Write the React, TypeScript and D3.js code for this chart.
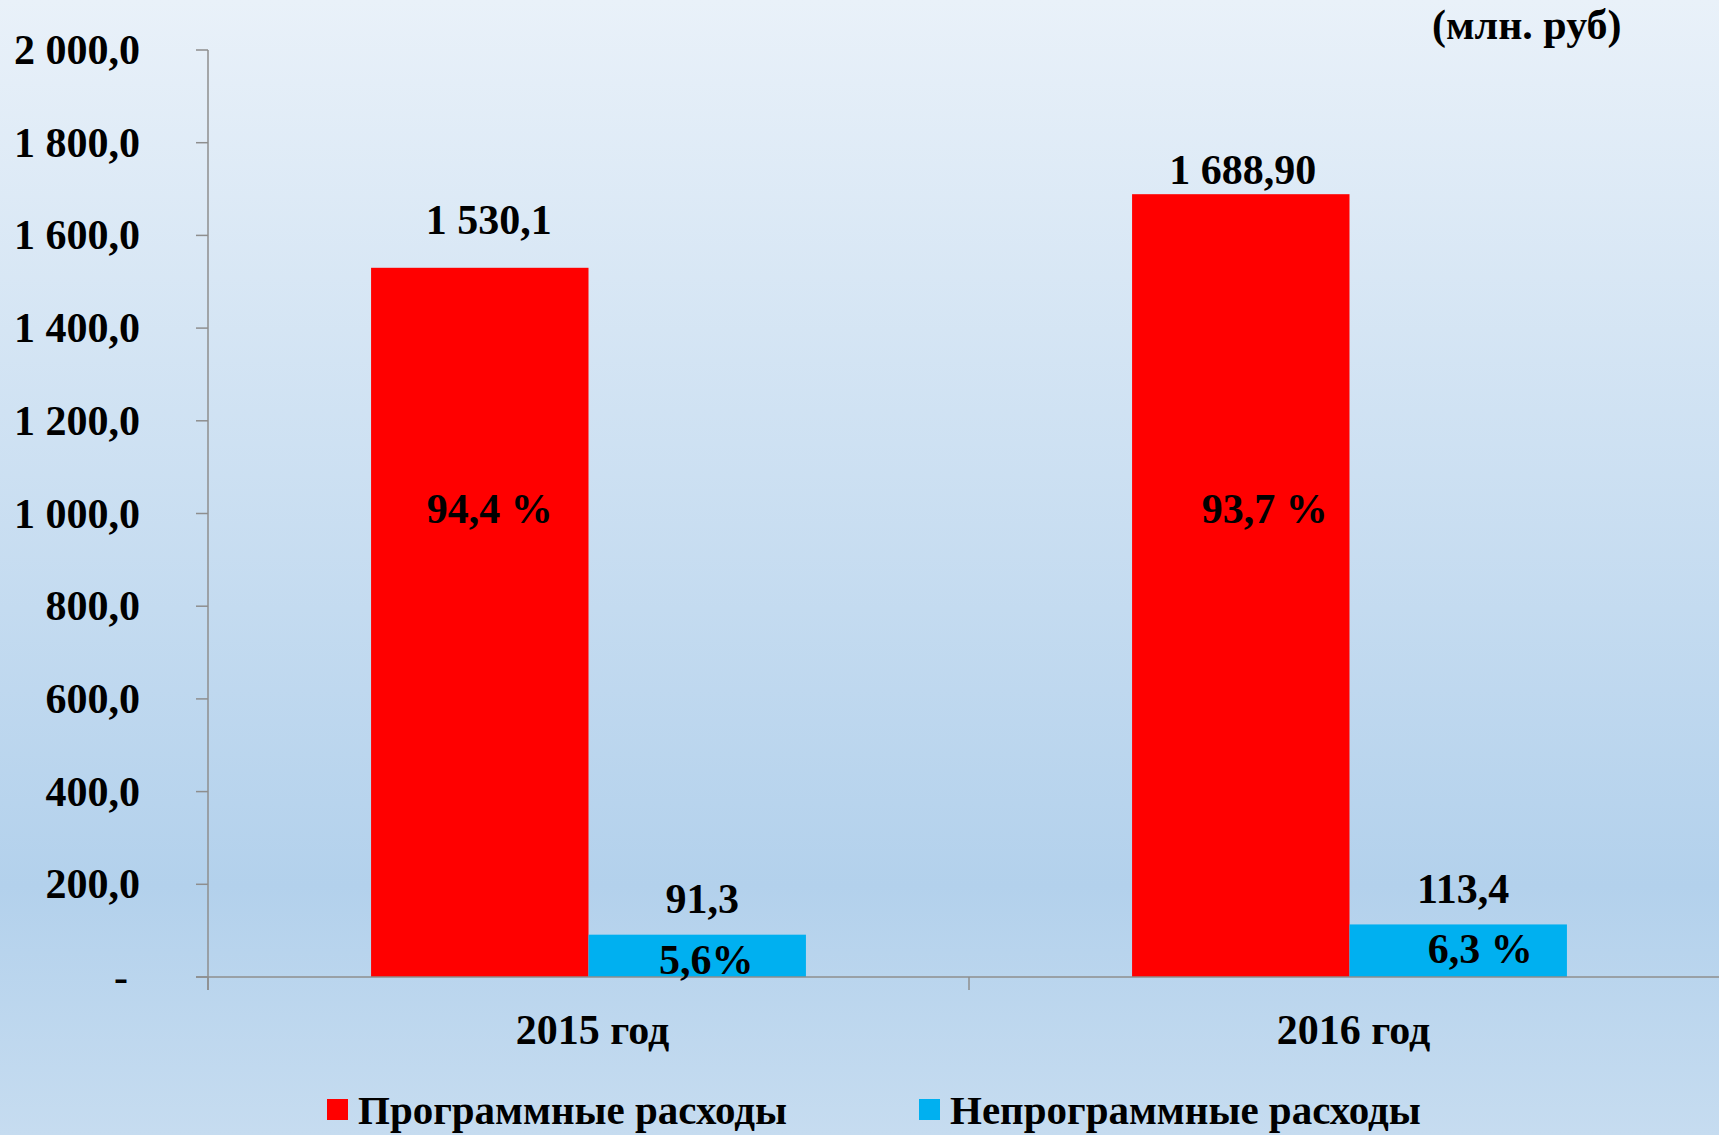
import React from "react";
import * as d3 from "d3";

const categories = ["2015 год", "2016 год"];
const seriesNames = ["Программные расходы", "Непрограммные расходы"];
const programValues = [1530.1, 1688.9];
const nonProgramValues = [91.3, 113.4];
const programLabels = ["1 530,1", "1 688,90"];
const nonProgramLabels = ["91,3", "113,4"];
const programShares = ["94,4 %", "93,7 %"];
const nonProgramShares = ["5,6%", "6,3 %"];
const yTicks = [0, 200, 400, 600, 800, 1000, 1200, 1400, 1600, 1800, 2000];
const unitLabel = "(млн. руб)";

const colors = ["#ff0000", "#00b0f0"];
const W = 1719;
const H = 1135;
const FONT = "'Liberation Serif', 'Times New Roman', serif";

const ruLocale = d3.formatLocale({
  decimal: ",",
  thousands: " ",
  grouping: [3],
  currency: ["", ""],
});
const fmt = ruLocale.format(",.1f");

export default function App() {
  const y = d3.scaleLinear().domain([0, 2000]).range([977, 50]);
  const x0 = d3.scaleBand<string>().domain(categories).range([208, 1730]).paddingInner(0).paddingOuter(0);
  const x1 = d3
    .scaleBand<string>()
    .domain(seriesNames)
    .range([0, x0.bandwidth()])
    .paddingInner(0)
    .paddingOuter(0.75);

  const rows = categories.map((c, i) => ({
    cat: c,
    vals: [programValues[i], nonProgramValues[i]],
    labels: [programLabels[i], nonProgramLabels[i]],
    shares: [programShares[i], nonProgramShares[i]],
  }));

  // label nudges (manual text boxes in original)
  const valueGap = [[34, 22], [10, 21]];
  const shareDx = [[10, 9], [24, 22]];

  const axisColor = "#8e8e8e";
  const fs = 42;

  return (
    <svg
      width={W}
      height={H}
      style={{ position: "absolute", left: 0, top: 0 }}
      fontFamily={FONT}
      fontWeight="bold"
    >
      <defs>
        <linearGradient id="bg" x1="0" y1="0" x2="0" y2="1">
          <stop offset="0" stopColor="#e9f1f9" />
          <stop offset="0.78" stopColor="#b3d1ec" />
          <stop offset="1" stopColor="#c6dcf0" />
        </linearGradient>
      </defs>
      <rect x={0} y={0} width={W} height={H} fill="url(#bg)" />

      {/* bars */}
      {rows.map((r, i) =>
        r.vals.map((v, j) => {
          const bx = (x0(r.cat) as number) + (x1(seriesNames[j]) as number);
          return (
            <rect
              key={`b${i}${j}`}
              x={bx}
              y={y(v)}
              width={x1.bandwidth()}
              height={y(0) - y(v)}
              fill={colors[j]}
            />
          );
        })
      )}

      {/* axes */}
      <line x1={208} x2={208} y1={y(2000)} y2={y(0) + 13} stroke={axisColor} strokeWidth={1.5} />
      <line x1={196} x2={W} y1={y(0)} y2={y(0)} stroke={axisColor} strokeWidth={1.5} />
      {yTicks.map((t) => (
        <line key={`t${t}`} x1={196} x2={208} y1={y(t)} y2={y(t)} stroke={axisColor} strokeWidth={1.5} />
      ))}
      {categories.map((c) => (
        <line
          key={`ct${c}`}
          x1={(x0(c) as number)}
          x2={(x0(c) as number)}
          y1={y(0)}
          y2={y(0) + 13}
          stroke={axisColor}
          strokeWidth={1.5}
        />
      ))}

      {/* y tick labels */}
      {yTicks.map((t) => (
        <text
          key={`yl${t}`}
          x={t === 0 ? 128 : 140}
          y={y(t) + 14}
          textAnchor="end"
          fontSize={fs}
          fill="#000"
        >
          {t === 0 ? "-" : fmt(t)}
        </text>
      ))}

      {/* category labels */}
      {categories.map((c) => (
        <text
          key={`cl${c}`}
          x={(x0(c) as number) + x0.bandwidth() / 2 + 4}
          y={1044}
          textAnchor="middle"
          fontSize={fs}
          fill="#000"
        >
          {c}
        </text>
      ))}

      {/* value labels */}
      {rows.map((r, i) =>
        r.vals.map((v, j) => {
          const cx = (x0(r.cat) as number) + (x1(seriesNames[j]) as number) + x1.bandwidth() / 2;
          return (
            <text
              key={`vl${i}${j}`}
              x={cx + (j === 0 && i === 0 ? 9 : j === 0 ? 2 : 5)}
              y={y(v) - valueGap[i][j]}
              textAnchor="middle"
              fontSize={fs}
              fill="#000"
            >
              {r.labels[j]}
            </text>
          );
        })
      )}

      {/* share labels */}
      {rows.map((r, i) =>
        r.vals.map((v, j) => {
          const cx = (x0(r.cat) as number) + (x1(seriesNames[j]) as number) + x1.bandwidth() / 2;
          const yy = j === 0 ? y(980) : y(v) + 39;
          return (
            <text
              key={`sl${i}${j}`}
              x={cx + shareDx[i][j]}
              y={yy}
              textAnchor="middle"
              fontSize={fs}
              fill="#000"
            >
              {r.shares[j]}
            </text>
          );
        })
      )}

      {/* unit */}
      <text x={1432} y={39} fontSize={fs} fill="#000">
        {unitLabel}
      </text>

      {/* legend */}
      {seriesNames.map((s, j) => {
        const lx = j === 0 ? 327 : 919;
        return (
          <g key={`lg${j}`}>
            <rect x={lx} y={1099} width={21} height={21} fill={colors[j]} />
            <text x={lx + 31} y={1124} fontSize={41} fill="#000">
              {s}
            </text>
          </g>
        );
      })}
    </svg>
  );
}
